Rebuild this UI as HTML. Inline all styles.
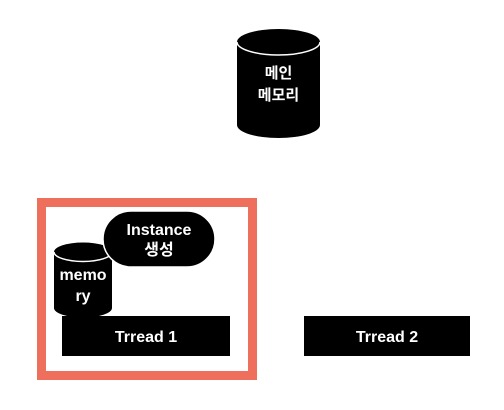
<!DOCTYPE html>
<html><head><meta charset="utf-8"><style>
html,body{margin:0;padding:0;background:#fff;width:504px;height:410px;overflow:hidden}
</style></head><body>
<svg width="504" height="410" xmlns="http://www.w3.org/2000/svg" font-family="'Liberation Sans','Noto Sans CJK KR',sans-serif" font-weight="bold" fill="#fff">
<rect x="0" y="0" width="504" height="410" fill="#fff"/>
<path d="M237,42 A41.5,13 0 0 1 320,42 L320,125 A41.5,13 0 0 1 237,125 Z" fill="#000"/>
<path d="M237,42 A41.5,13 0 0 0 320,42" fill="none" stroke="#fff" stroke-width="1.5"/>
<text x="278.5" y="78" font-size="15" text-anchor="middle">메인</text>
<text x="278.5" y="100" font-size="15" text-anchor="middle">메모리</text>
<rect x="41.5" y="202.5" width="211" height="173" fill="none" stroke="#ee6f5b" stroke-width="9"/>
<rect x="62" y="316" width="168" height="40" fill="#000"/>
<text x="146" y="342" font-size="16" text-anchor="middle">Trread 1</text>
<rect x="304" y="316" width="166" height="40" fill="#000"/>
<text x="387" y="342" font-size="16" text-anchor="middle">Trread 2</text>
<path d="M54,252 A29,9.5 0 0 1 112,252 L112,308 A29,9.5 0 0 1 54,308 Z" fill="#000"/>
<path d="M54,252 A29,9.5 0 0 0 112,252" fill="none" stroke="#fff" stroke-width="1.5"/>
<rect x="103" y="211" width="112" height="56" rx="28" fill="#000" stroke="#fff" stroke-width="1.5"/>
<text x="159" y="235" font-size="16" text-anchor="middle">Instance</text>
<text x="159" y="255" font-size="16" text-anchor="middle">생성</text>
<text x="83" y="280" font-size="16" text-anchor="middle">memo</text>
<text x="83" y="301" font-size="16" text-anchor="middle">ry</text>
</svg>
</body></html>
